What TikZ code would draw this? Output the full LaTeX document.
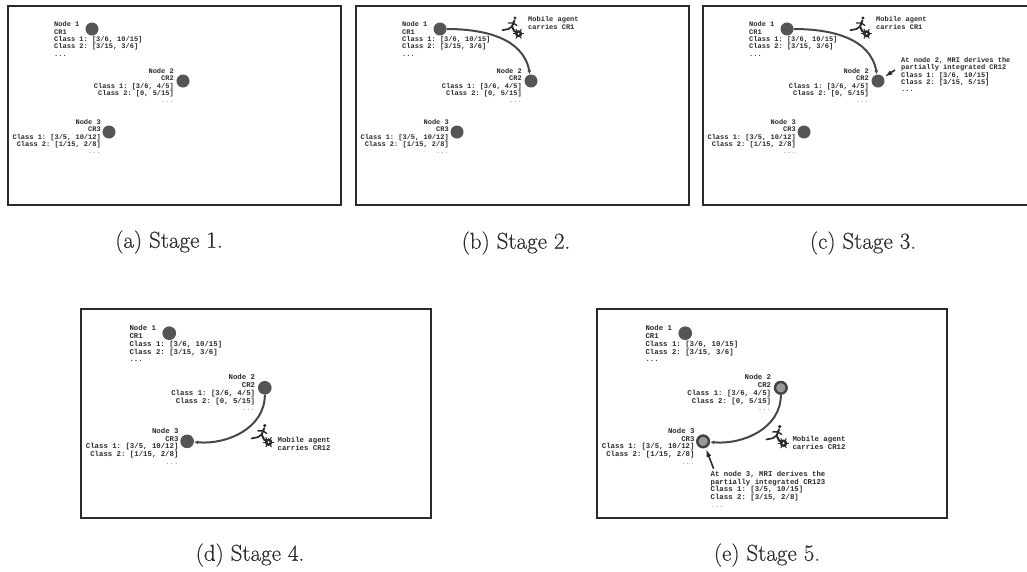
\documentclass[tikz,border=0pt]{standalone}
\usepackage{fontspec}
\setmonofont{Liberation Mono}
\newfontfamily\capfont[FakeBold=0.5]{Latin Modern Roman}
\usepackage{xcolor}
\usetikzlibrary{positioning, arrows.meta}
\definecolor{ink}{HTML}{2B2B2B}
\definecolor{site}{HTML}{555555}
\definecolor{mute}{HTML}{A8A8A8}
\tikzset{
  panel/.style    = {rectangle, draw=ink, line width=1.8pt, anchor=north west,
                    minimum width=333pt, minimum height=199pt, inner sep=0pt},
  sitenode/.style = {circle, fill=site, minimum size=13pt, inner sep=0pt},
  donenode/.style = {circle, draw=site!80!black, line width=2.4pt, fill=site!60,
                    minimum size=11pt, inner sep=0pt},
  crinfo/.style   = {font=\fontsize{7}{7.4}\selectfont\ttfamily\bfseries, text=ink,
                    inner sep=0pt},
  caption/.style  = {font=\fontsize{23}{25}\capfont, text=ink},
  route/.style    = {-{Latex[length=4pt,width=4pt]}, line width=2pt, draw=site!85!black},
  callout/.style  = {-{Latex[length=8pt,width=5pt]}, line width=1.6pt, draw=ink, shorten >=1pt},
  agent/.pic = {
    \fill[ink] (3,-11) circle (1.7);
    \draw[ink, line width=2pt, line cap=round, line join=round]
      (2.4,-8.5) -- (0,-2.5) -- (2.4,2.4) -- (6,3.6);
    \draw[ink, line width=1.7pt, line cap=round, line join=round]
      (0,-2.5) -- (-3.6,0) -- (-9.6,1.2);
    \draw[ink, line width=1.4pt, line cap=round] (1.2,-6) -- (-3.6,-6) (1.2,-6) -- (4.8,-3.6);
    \fill[ink] (6.6,4.8) circle (3.6);
    \fill[white] (6.6,4.8) circle (1);
    \foreach \ang in {0,60,...,300} {
      \draw[ink, line width=1pt] (6.6,4.8) ++(\ang:3) -- ++(\ang:2.4);
    }
  },
}

% the three sites that every stage shows
\newcommand{\threesites}[1]{
  \node[sitenode] (#11) at (85,24) {};
  \node[sitenode] (#12) at (176,76) {};
  \node[sitenode] (#13) at (102,127) {};
  \node[crinfo, align=left, anchor=north west] (#1info1) at (47,16.5)
       {Node 1\\CR1\\Class 1: [3/6, 10/15]\\Class 2: [3/15, 3/6]\\...};
  \node[crinfo, align=right, anchor=north east] (#1info2) at (167,63)
       {Node 2\\CR2\\Class 1: [3/6, 4/5]\\Class 2: [0, 5/15]\\\textcolor{mute}{...}};
  \node[crinfo, align=right, anchor=north east] (#1info3) at (94,114)
       {Node 3\\CR3\\Class 1: [3/5, 10/12]\\Class 2: [1/15, 2/8]\\\textcolor{mute}{...}};
}

\begin{document}
\begin{tikzpicture}[x=1pt, y=-1pt]
  \path[use as bounding box, clip] (0,0) rectangle (1027,571);

  % Stage 1
  \begin{scope}[shift={(7,5)}]
    \node[panel] (framea) at (0,0) {};
    \threesites{a}
  \end{scope}
  \node[caption] (capa) at (169,242) {(a) Stage 1.};

  % Stage 2
  \begin{scope}[shift={(355,5)}]
    \node[panel] (frameb) at (0,0) {};
    \threesites{b}
    \draw[route] (b1) to[out=0, in=100] (b2);
    \pic at (157,24) {agent};
    \node[crinfo, align=left, anchor=north west] (bnote) at (173,11.5)
         {Mobile agent\\carries CR1};
  \end{scope}
  \node[caption] (capb) at (516,243) {(b) Stage 2.};

  % Stage 3
  \begin{scope}[shift={(702,5)}]
    \node[panel] (framec) at (0,0) {};
    \threesites{c}
    \draw[route] (c1) to[out=0, in=100] (c2);
    \pic at (158,24) {agent};
    \node[crinfo, align=left, anchor=north west] (cnote) at (174,11.5)
         {Mobile agent\\carries CR1};
    \node[crinfo, align=left, anchor=north west] (cmri) at (199,52)
         {At node 2, MRI derives the\\partially integrated CR12\\Class 1: [3/6, 10/15]\\Class 2: [3/15, 5/15]\\...};
    \coordinate (ctail) at (193,65);
    \draw[callout] (ctail) -- (c2);
  \end{scope}
  \node[caption] (capc) at (863,243) {(c) Stage 3.};

  % Stage 4
  \begin{scope}[shift={(80,308)}, scale=1.05, transform shape]
    \node[panel] (framed) at (0,0) {};
    \threesites{d}
    \draw[route] (d2) to[out=-90, in=-5] (d3);
    \pic at (173,123) {agent};
    \node[crinfo, align=left, anchor=north west] (dnote) at (188,123)
         {Mobile agent\\carries CR12};
  \end{scope}
  \node[caption] (capd) at (250,555) {(d) Stage 4.};

  % Stage 5
  \begin{scope}[shift={(596,308)}, scale=1.05, transform shape]
    \node[panel] (framee) at (0,0) {};
    \threesites{e}
    \node[donenode] (e2ring) at (e2) {};
    \node[donenode] (e3ring) at (e3) {};
    \draw[route] (e2ring) to[out=-90, in=-5] (e3ring);
    \pic at (172,124) {agent};
    \node[crinfo, align=left, anchor=north west] (enote) at (187,122)
         {Mobile agent\\carries CR12};
    \node[crinfo, align=left, anchor=north west] (emri) at (109,155)
         {At node 3, MRI derives the\\partially integrated CR123\\Class 1: [3/5, 10/15]\\Class 2: [3/15, 2/8]\\\textcolor{mute}{...}};
    \coordinate (etail) at (112,153);
    \draw[callout] (etail) -- (e3ring);
  \end{scope}
  \node[caption] (cape) at (767,555) {(e) Stage 5.};

\end{tikzpicture}
\end{document}
